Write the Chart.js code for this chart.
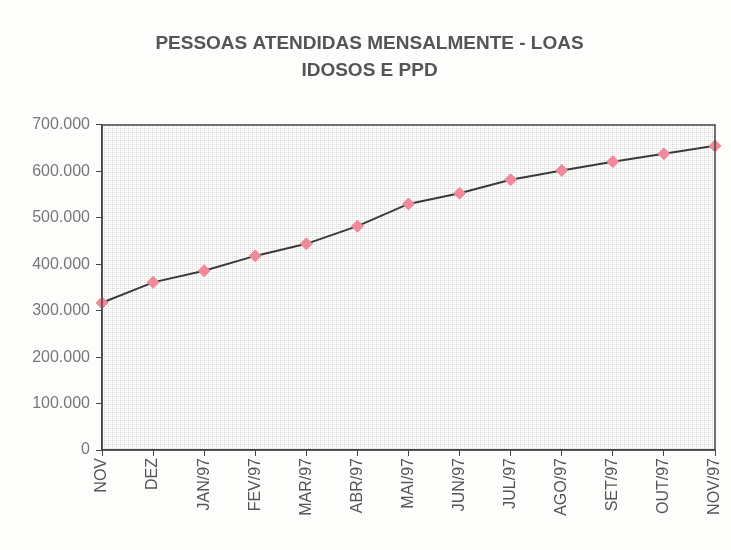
<!DOCTYPE html>
<html>
<head>
<meta charset="utf-8">
<script src="https://cdn.jsdelivr.net/npm/chart.js@4"></script>
<style>
  html, body { margin: 0; padding: 0; background: #fdfdfb; }
  #wrap { width: 731px; height: 550px; position: relative; }
</style>
</head>
<body>
<div id="wrap"><canvas id="c" width="731" height="550"></canvas></div>
<script>
const titleLines = ["PESSOAS ATENDIDAS MENSALMENTE - LOAS", "IDOSOS E PPD"];
const categories = ["NOV", "DEZ", "JAN/97", "FEV/97", "MAR/97", "ABR/97", "MAI/97", "JUN/97", "JUL/97", "AGO/97", "SET/97", "OUT/97", "NOV/97"];
const pessoas = [317000, 361000, 386000, 418000, 444000, 482000, 530000, 553000, 582000, 602000, 621000, 638000, 655000];
const yTicks = [0, 100000, 200000, 300000, 400000, 500000, 600000, 700000];

function fmt(v) {
  if (v === 0) return "0";
  const s = String(v);
  return s.replace(/\B(?=(\d{3})+(?!\d))/g, ".");
}

// dotted texture for plot area
const pc = document.createElement('canvas');
pc.width = 4; pc.height = 4;
const pctx = pc.getContext('2d');
pctx.fillStyle = '#fbfbfa';
pctx.fillRect(0, 0, 4, 4);
pctx.fillStyle = '#d9d9d9';
pctx.fillRect(0, 0, 1, 1);
pctx.fillRect(2, 0, 1, 1);
pctx.fillRect(0, 2, 1, 1);

const bgPlugin = {
  id: 'plotBg',
  beforeDraw(chart) {
    const { ctx, chartArea: a } = chart;
    ctx.save();
    ctx.fillStyle = ctx.createPattern(pc, 'repeat');
    ctx.fillRect(a.left, a.top, a.right - a.left, a.bottom - a.top);
    ctx.restore();
  },
  afterDraw(chart) {
    const { ctx, chartArea: a } = chart;
    ctx.save();
    ctx.strokeStyle = '#444';
    ctx.lineWidth = 1.5;
    ctx.strokeRect(a.left, a.top, a.right - a.left, a.bottom - a.top);
    ctx.restore();
  }
};

new Chart(document.getElementById('c'), {
  type: 'line',
  data: {
    labels: categories,
    datasets: [{
      data: pessoas,
      borderColor: '#3a3a3a',
      borderWidth: 2,
      tension: 0,
      pointStyle: 'rectRot',
      pointRadius: 6,
      pointBackgroundColor: '#f0899b',
      pointBorderColor: '#f0899b',
      pointBorderWidth: 1
    }]
  },
  options: {
    responsive: false,
    animation: false,
    layout: { padding: { left: 24, right: 16, top: 20, bottom: 20 } },
    plugins: {
      legend: { display: false },
      tooltip: { enabled: false },
      title: {
        display: true,
        text: titleLines,
        color: '#555',
        font: { family: 'Liberation Sans, Arial, sans-serif', size: 19, weight: 'bold', lineHeight: 1.42 },
        padding: { top: 10, bottom: 41 }
      }
    },
    scales: {
      x: {
        offset: false,
        afterFit(s) { s.height = 80; s.paddingRight = 0; s.paddingLeft = 0; },
        grid: { drawOnChartArea: false, drawTicks: true, tickLength: 6, color: '#444' },
        border: { display: true, color: '#444', width: 1.5 },
        ticks: {
          autoSkip: false,
          maxRotation: 90, minRotation: 90,
          color: '#555',
          padding: 2,
          font: { family: 'Liberation Sans, Arial, sans-serif', size: 16 }
        }
      },
      y: {
        min: 0, max: 700000,
        afterFit(s) { s.width = 78; },
        afterBuildTicks(s) { s.ticks = yTicks.map(v => ({ value: v })); },
        grid: { drawOnChartArea: false, drawTicks: true, tickLength: 6, color: '#444' },
        border: { display: true, color: '#444', width: 1.5 },
        ticks: {
          color: '#777',
          padding: 6,
          font: { family: 'Liberation Sans, Arial, sans-serif', size: 16 },
          callback: (v) => fmt(v)
        }
      }
    }
  },
  plugins: [bgPlugin]
});
</script>
</body>
</html>
